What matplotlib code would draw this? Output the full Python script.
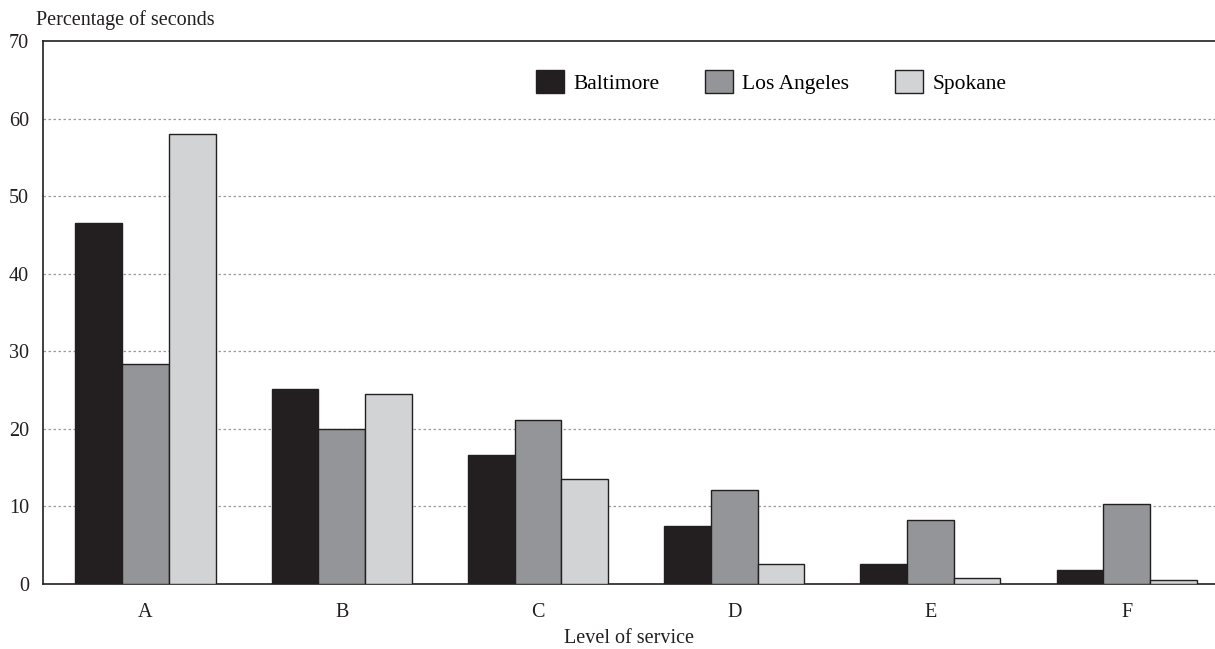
import matplotlib.pyplot as plt
import numpy as np

# level of service categories and percentage of seconds per city
levels = ["A", "B", "C", "D", "E", "F"]
baltimore = [46.5, 25.2, 16.6, 7.5, 2.6, 1.8]
los_angeles = [28.4, 20.0, 21.2, 12.1, 8.3, 10.3]
spokane = [58.0, 24.5, 13.5, 2.6, 0.8, 0.5]
cities = ["Baltimore", "Los Angeles", "Spokane"]

plt.rcParams['font.family'] = ['Liberation Serif', 'DejaVu Serif']
fs = 14.5

fig = plt.figure(figsize=(12.15, 6.49), dpi=100)
ax = fig.add_axes([43 / 1215, 1 - 584 / 649, 1 - 43 / 1215, (584 - 41) / 649])

x = np.arange(len(levels))
w = 0.238
colors = ["#231f20", "#939598", "#d1d3d4"]
for i, (vals, c, name) in enumerate(zip([baltimore, los_angeles, spokane], colors, cities)):
    ax.bar(x + (i - 1) * w, vals, width=w, color=c, edgecolor="#231f20",
           linewidth=1.0, label=name, zorder=3)

ax.set_xlim(-0.522, 5.45)
ax.set_ylim(0, 70)
ax.set_yticks(range(0, 71, 10))
ax.set_xticks(x)
ax.set_xticklabels(levels)
ax.tick_params(axis="both", length=0, labelsize=fs, colors="#231f20")
ax.tick_params(axis="x", pad=14)
ax.tick_params(axis="y", pad=10)

for y in range(10, 70, 10):
    ax.axhline(y, color="#9a9a9a", linestyle=(0, (2, 2)), linewidth=0.9, zorder=1)

for s in ["left", "bottom", "top"]:
    ax.spines[s].set_color("#231f20")
    ax.spines[s].set_linewidth(1.2)
ax.spines["right"].set_visible(False)

ax.set_xlabel("Level of service", fontsize=fs, color="#231f20", labelpad=5)
fig.text(36 / 1215, 1 - 20 / 649, "Percentage of seconds", fontsize=fs,
         color="#231f20", va="center", ha="left")

fig.legend(loc="center", bbox_to_anchor=(771 / 1215, 1 - 82 / 649), ncol=3,
           frameon=False, fontsize=15.5, handlelength=1.3, handleheight=1.3,
           handletextpad=0.45, columnspacing=2.1)

fig.savefig("out.png", dpi=100)
